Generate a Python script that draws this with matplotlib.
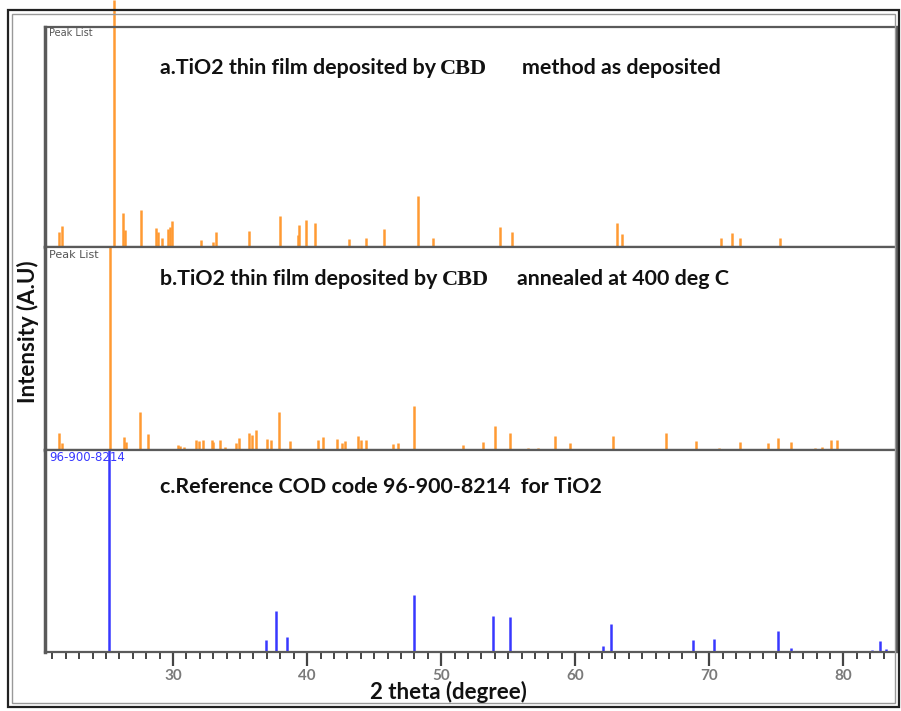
import numpy as np
import matplotlib
matplotlib.use("Agg")
import matplotlib.pyplot as plt
from matplotlib.patches import Rectangle

# peak positions (2 theta, degree) and relative intensity (%) per panel
a_pos = [21.5, 21.7, 25.6, 26.3, 26.4, 27.6, 28.7, 28.9, 29.2, 29.6, 29.75, 29.9,
         32.1, 33.0, 33.2, 35.7, 38.0, 39.3, 39.4, 39.9, 40.6, 43.1, 44.4, 45.7,
         48.3, 49.4, 54.4, 55.3, 63.1, 63.5, 70.9, 71.7, 72.3, 75.3]
a_int = [6.1, 8.5, 100, 13.8, 6.9, 15.0, 7.7, 6.1, 3.6, 7.3, 8.1, 10.5,
         2.8, 2.0, 6.1, 6.5, 12.6, 4.9, 8.9, 10.9, 9.7, 3.2, 3.6, 7.3,
         20.6, 3.6, 8.1, 6.1, 9.7, 5.3, 3.6, 5.7, 3.6, 3.6]

b_pos = [21.5, 21.75, 25.3, 26.35, 26.5, 27.5, 28.1, 30.4, 30.55, 30.8, 31.75, 31.9,
         32.2, 32.9, 33.0, 33.5, 33.9, 34.7, 34.9, 35.7, 35.9, 36.2, 37.0, 37.3,
         37.9, 38.7, 40.8, 41.15, 42.2, 42.6, 42.8, 43.8, 44.0, 44.4, 46.4, 46.8,
         48.0, 51.6, 53.1, 54.0, 55.1, 56.5, 57.2, 58.5, 59.6, 62.8, 66.8, 69.0,
         70.7, 72.3, 74.4, 75.1, 76.1, 77.9, 78.4, 79.1, 79.5]
b_int = [8.2, 3.3, 100, 6.6, 3.8, 18.6, 7.9, 2.6, 2.1, 1.6, 4.9, 4.6,
         4.9, 4.9, 3.8, 4.9, 1.6, 3.3, 5.9, 8.2, 7.5, 10.0, 5.4, 4.9,
         18.6, 4.6, 4.9, 6.6, 5.4, 3.3, 4.6, 7.0, 4.9, 4.9, 3.0, 3.3,
         21.5, 2.6, 3.8, 12.0, 8.2, 1.1, 1.1, 7.0, 3.6, 6.9, 8.2, 4.4,
         1.1, 3.8, 3.3, 6.1, 4.1, 1.1, 1.6, 4.9, 4.9]

c_pos = [25.23, 36.9, 37.7, 38.5, 48.0, 53.85, 55.1, 62.1, 62.7, 68.8, 70.35,
         74.0, 75.1, 76.1, 82.1, 82.7, 83.2]
c_int = [100, 6.1, 20.3, 7.4, 28.1, 17.8, 17.3, 2.8, 13.7, 6.1, 6.6,
         0.3, 10.4, 2.1, 0.8, 5.3, 1.6]

xticks = [30, 40, 50, 60, 70, 80]

ORANGE = "#ff9a33"
BLUE = "#3838ff"
W, H = 901, 711


def fx(px):
    return px / W


def fy(py):
    return 1 - py / H


def add_panel(fig, top, bottom):
    ax = fig.add_axes([fx(45), fy(bottom), fx(897) - fx(45), fy(top) - fy(bottom)])
    ax.set_xlim(20.45, 84.0)
    for s in ax.spines.values():
        s.set_color("#5a5a5a")
        s.set_linewidth(1.6)
    ax.spines["left"].set_linewidth(2.5)
    ax.set_yticks([])
    return ax


fig = plt.figure(figsize=(W / 100, H / 100), dpi=100)

# outer double frame
fig.patches.append(Rectangle((fx(8), fy(707)), fx(891), 697 / H, transform=fig.transFigure,
                             fill=False, ec="#222", lw=1.6))
fig.patches.append(Rectangle((fx(12), fy(703)), fx(883), 689 / H, transform=fig.transFigure,
                             fill=False, ec="#999", lw=1.0))

ax_a = add_panel(fig, 27, 247)
ax_b = add_panel(fig, 247, 450)
ax_c = add_panel(fig, 450, 652)

ax_a.vlines(a_pos, 0, a_int, colors=ORANGE, lw=1.8, clip_on=False)
ax_a.set_ylim(0, 89)
ax_b.vlines(b_pos, 0, b_int, colors=ORANGE, lw=1.8)
ax_b.set_ylim(0, 100)
ax_c.vlines(c_pos, 0, c_int, colors=BLUE, lw=1.8)
ax_c.set_ylim(0, 100)

for ax in (ax_a, ax_b):
    ax.set_xticks([])

ax_c.set_xticks(xticks)
ax_c.set_xticks(np.arange(21, 84), minor=True)
ax_c.tick_params(axis="x", which="major", direction="out", length=10, width=1.6,
                 color="#444", labelcolor="#7a7a7a", labelsize=11, pad=2)
ax_c.tick_params(axis="x", which="minor", direction="out", length=5, width=1.4, color="#444")
for lab in ax_c.get_xticklabels():
    lab.set_family("Lato")
    lab.set_fontweight("bold")

# small labels inside panels
fig.text(fx(49), fy(36), "Peak List", fontsize=7, color="#555", family="DejaVu Sans")
fig.text(fx(49), fy(258), "Peak List", fontsize=8, color="#555", family="DejaVu Sans")
fig.text(fx(49), fy(461), "96-900-8214", fontsize=8.5, color=BLUE, family="DejaVu Sans")

# panel titles
tkw = dict(fontsize=15.4, fontweight="bold", family="Lato", color="#111", va="center")
skw = dict(fontsize=16, fontweight="bold", family="Liberation Serif", color="#111", va="center")
fig.text(fx(160), fy(68), "a.TiO2 thin film deposited by", **tkw)
fig.text(fx(440), fy(69), "CBD", **skw)
fig.text(fx(522), fy(68), "method as deposited", **tkw)
fig.text(fx(160), fy(279), "b.TiO2 thin film deposited by", **tkw)
fig.text(fx(442), fy(280), "CBD", **skw)
fig.text(fx(517), fy(279), "annealed at 400 deg C", **tkw)
fig.text(fx(160), fy(487), "c.Reference COD code 96-900-8214  for TiO2", **tkw)

# axis labels
fig.text(fx(448), fy(692), "2 theta (degree)", fontsize=16, fontweight="bold",
         family="Lato", ha="center", va="center", color="#111")
fig.text(fx(28), fy(332), "Intensity (A.U)", fontsize=16, fontweight="bold",
         family="Lato", ha="center", va="center", rotation=90, color="#111")

fig.savefig("out.png", dpi=100)
